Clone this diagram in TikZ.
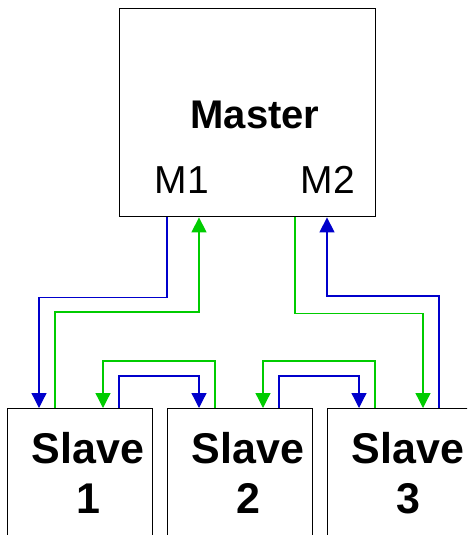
\documentclass[tikz,border=0pt]{standalone}
\usepackage{fontspec}
\setmainfont{Liberation Sans}
\usetikzlibrary{arrows.meta}
\tikzset{>={Triangle[width=15pt,length=15pt]}}
\definecolor{wireblue}{RGB}{0,0,204}
\definecolor{wiregreen}{RGB}{0,204,0}
\tikzset{
  unitbox/.style={draw,line width=1.4pt,inner sep=0pt,anchor=north west},
  bluewire/.style={->,draw=wireblue,line width=1.3pt},
  greenwire/.style={->,draw=wiregreen,line width=1.3pt},
  bigfont/.style={font=\bfseries\fontsize{#1}{50}\selectfont}
}

\begin{document}
\begin{tikzpicture}[x=1pt,y=-1pt]

  % page frame
  \clip (0,0) rectangle (467,535);

  % master
  \node[unitbox,minimum width=256pt,minimum height=208pt] (master) at (119,8) {};
  \node[bigfont=40,anchor=base] (mastername) at (255,128) {Master};
  \node[font=\fontsize{39}{47}\selectfont,anchor=base] (m1) at (182,193) {M1};
  \node[font=\fontsize{39}{47}\selectfont,anchor=base] (m2) at (328,193) {M2};

  % slaves
  \foreach \i in {1,2,3} {
    \node[unitbox,minimum width=145pt,minimum height=150pt] (slave\i) at ({7+160*(\i-1)},408) {};
    \node[bigfont=43,align=center] (slavename\i) at ({88+160*(\i-1)},473) {Slave\\\i};
  }

  % links between neighbouring slaves
  \foreach \i/\j in {1/2,2/3} {
    \draw[greenwire] ([xshift=48pt]slave\j.north west) -- ++(0,-47) -| ([xshift=96pt]slave\i.north west);
    \draw[bluewire] ([xshift=112pt]slave\i.north west) -- ++(0,-32) -| ([xshift=32pt]slave\j.north west);
  }

  % links to the master ports
  \draw[bluewire] ([xshift=48pt]master.south west) -- ++(0,80) -| ([xshift=32pt]slave1.north west);
  \draw[greenwire] ([xshift=48pt]slave1.north west) -- ++(0,-96) -| ([xshift=80pt]master.south west);
  \draw[greenwire] ([xshift=176pt]master.south west) -- ++(0,96) -| ([xshift=96pt]slave3.north west);
  \draw[bluewire] ([xshift=112pt]slave3.north west) -- ++(0,-112) -| ([xshift=208pt]master.south west);

\end{tikzpicture}
\end{document}
